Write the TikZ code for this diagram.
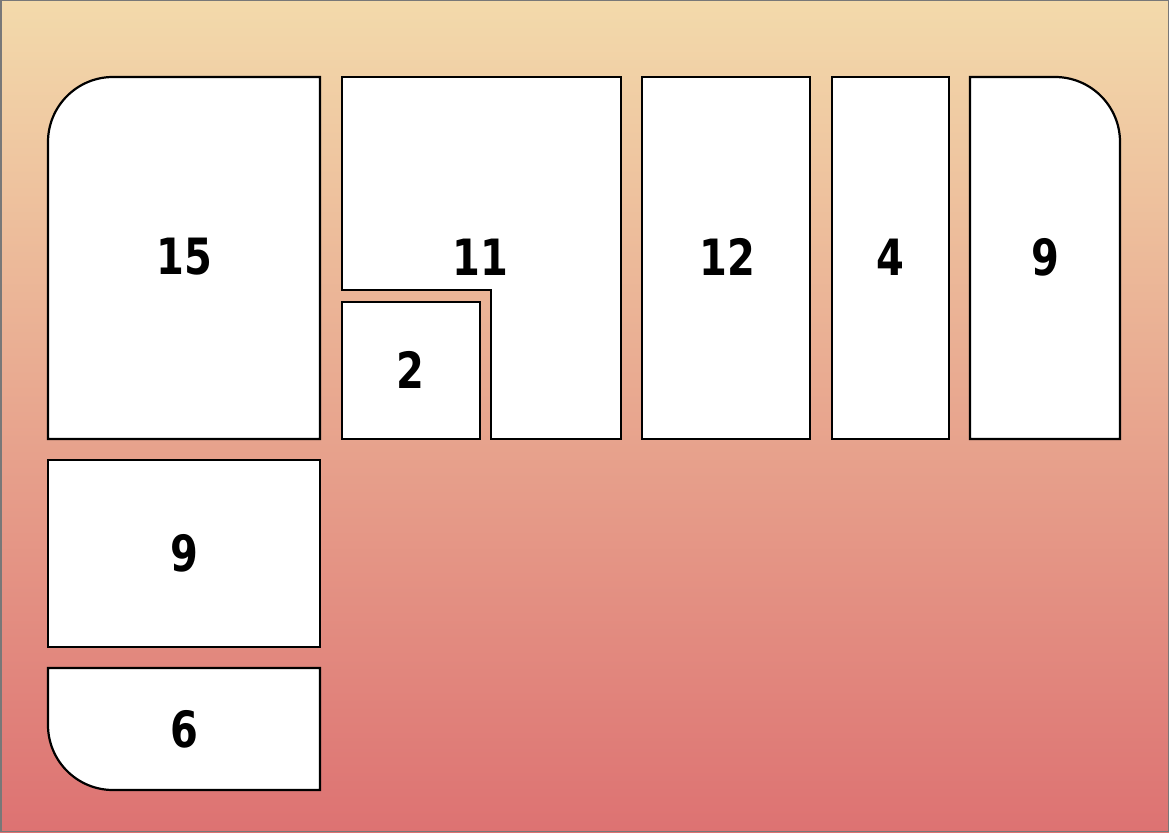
\documentclass[tikz,border=0pt]{standalone}
\usepackage{fontspec}
\newfontfamily\numfont[FakeStretch=0.8]{DejaVu Sans}
\definecolor{topc}{RGB}{243,218,171}
\definecolor{botc}{RGB}{221,114,114}
\definecolor{edgec}{RGB}{120,120,120}
\tikzset{
  panel/.style={draw=black, line width=2.2pt, fill=white, line join=miter},
  lbl/.style={font=\numfont\bfseries\fontsize{50}{50}\selectfont, inner sep=0pt, anchor=center}
}
\begin{document}
\begin{tikzpicture}[x=1pt,y=-1pt]
\useasboundingbox (0,0) rectangle (1169,832);
\shade[top color=topc, bottom color=botc] (0,0) rectangle (1169,832);
\draw[edgec, line width=1.5pt] (0.75,0.75) rectangle (1168.25,831.25);
% 15
\draw[panel] (48,439) -- (48,142) arc[start angle=180, end angle=270, radius=65] -- (320,77) -- (320,439) -- cycle;
% 11 (L-shape)
\draw[panel] (342,77) -- (621,77) -- (621,439) -- (491,439) -- (491,290) -- (342,290) -- cycle;
% 2
\draw[panel] (342,302) rectangle (480,439);
% 12
\draw[panel] (642,77) rectangle (810,439);
% 4
\draw[panel] (832,77) rectangle (949,439);
% 9 top right
\draw[panel] (970,77) -- (1055,77) arc[start angle=270, end angle=360, radius=65] -- (1120,439) -- (970,439) -- cycle;
% 9 left
\draw[panel] (48,460) rectangle (320,647);
% 6
\draw[panel] (48,668) -- (320,668) -- (320,790) -- (113,790) arc[start angle=90, end angle=180, radius=65] -- cycle;
% labels
\node[lbl] (n15) at (184,257) {15};
\node[lbl] (n11) at (480,257) {11};
\node[lbl] (n12) at (727,257) {12};
\node[lbl] (n4) at (890,257) {4};
\node[lbl] (n9a) at (1045,257) {9};
\node[lbl] (n2) at (410,370) {2};
\node[lbl] (n9b) at (184,553) {9};
\node[lbl] (n6) at (184,729) {6};
\end{tikzpicture}
\end{document}
